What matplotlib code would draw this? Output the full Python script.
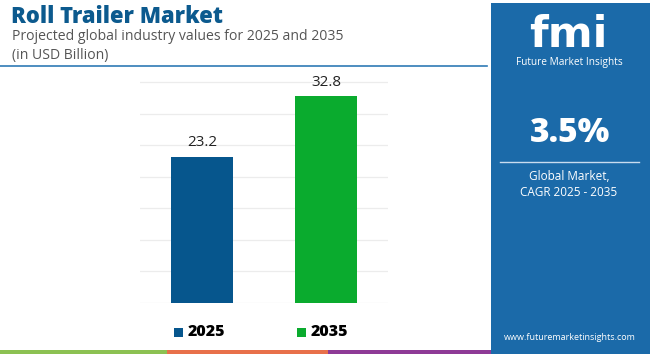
import matplotlib.pyplot as plt
from matplotlib.patches import Rectangle

years = ["2025", "2035"]
values = [23.2, 32.8]
bar_colors = ["#06568d", "#0aab2e"]
cagr_text = "3.5%"
title = "Roll Trailer Market"
subtitle = "Projected global industry values for 2025 and 2035\n(in USD Billion)"

W, H = 650, 354
fig = plt.figure(figsize=(W / 100, H / 100), dpi=100)
fig.patch.set_facecolor("white")
plt.rcParams["font.family"] = ["Open Sans", "DejaVu Sans"]


def px(x, y):
    """pixel coords (top-left origin) -> figure fraction"""
    return x / W, 1 - y / H


# header
fig.text(*px(11, 17), title, fontsize=15.8, fontweight="heavy", color="#0c5a8e",
         va="center", ha="left")
fig.text(*px(12, 46), subtitle, fontsize=10.1, color="#555555", va="center",
         ha="left", linespacing=1.3)
fig.add_artist(plt.Line2D([0, 487 / W], [1 - 66 / H] * 2, color="#2f7ab5", lw=1.2))

# bottom colour strip
for x0, x1, c in [(0, 167, "#8cc152"), (167, 328, "#e8704a"), (328, 491, "#8e3a96")]:
    fig.add_artist(Rectangle((x0 / W, 0), (x1 - x0) / W, 4 / H, color=c,
                             transform=fig.transFigure, lw=0))

# right panel
fig.add_artist(Rectangle((491 / W, 0), (W - 491) / W, 1 - 3 / H, color="#1b6aa9",
                         transform=fig.transFigure, lw=0))
fig.text(*px(568, 47), "fmi", fontsize=31, fontweight="bold", color="white",
         ha="center", va="baseline", family="DejaVu Sans")
fig.text(*px(569, 63), "Future Market Insights", fontsize=7.3, color="white",
         ha="center", va="center")
fig.text(*px(570, 133), cagr_text, fontsize=24, fontweight="heavy", color="white",
         ha="center", va="center")
fig.add_artist(plt.Line2D([500 / W, 639 / W], [1 - 162 / H] * 2, color="#c9dcef", lw=1))
fig.text(*px(569, 185), "Global Market,\nCAGR 2025 - 2035", fontsize=8.5, color="white",
         ha="center", va="center", linespacing=1.3)
fig.text(*px(570, 337), "www.futuremarketinsights.com", fontsize=6.5, color="white",
         ha="center", va="center")

# bars
ymax = 35.5
ax = fig.add_axes([140 / W, 51 / H, 248 / W, ymax * 6.314 / H])
xs = range(len(years))
bars = ax.bar(xs, values, width=0.5, color=bar_colors, zorder=3)
for b, v in zip(bars, values):
    ax.text(b.get_x() + b.get_width() / 2, v + 1.0, f"{v}", ha="center", va="bottom",
            fontsize=11, color="#222222")
ax.set_xlim(-0.5, 1.5)
ax.set_ylim(0, ymax)
ax.set_yticks(range(0, 36, 5))
ax.grid(axis="y", color="#ececec", lw=0.9, zorder=0)
ax.tick_params(left=False, bottom=False, labelleft=False, labelbottom=False)
for s in ax.spines.values():
    s.set_visible(False)

# legend
for (lx, lab, c) in [(174, years[0], bar_colors[0]), (297, years[1], bar_colors[1])]:
    fig.add_artist(Rectangle((lx / W, 1 - 337 / H), 9 / W, 9 / H, color=c,
                             transform=fig.transFigure, lw=0))
    fig.text(*px(lx + 14, 332), lab, fontsize=11.5, fontweight="heavy", color="black",
             ha="left", va="center")

fig.savefig("out.png", dpi=100)
